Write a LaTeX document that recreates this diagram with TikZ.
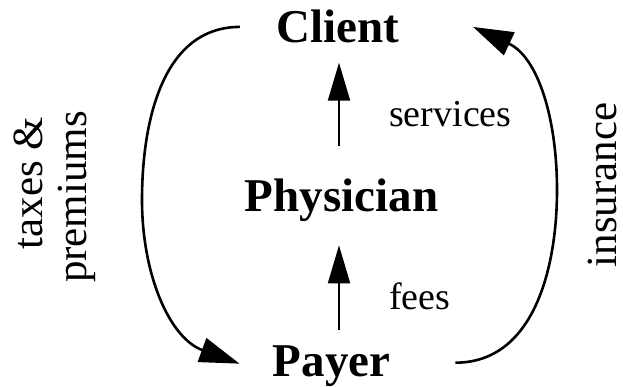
\documentclass[tikz,border=0pt]{standalone}
\usepackage{fontspec}
\setmainfont{Liberation Serif}
\usetikzlibrary{arrows.meta}

\begin{document}
\begin{tikzpicture}[x=1pt,y=1pt,
  party/.style={font=\fontsize{47}{50}\selectfont\bfseries, inner sep=0pt},
  flowlabel/.style={font=\fontsize{38}{40}\selectfont, inner sep=0pt},
  sidelabel/.style={font=\fontsize{43}{44}\selectfont, inner sep=0pt, rotate=90},
  flow/.style={line width=2pt, -{Triangle[length=38pt,width=22pt]}},
  loopflow/.style={line width=2.6pt, -{Triangle[length=40pt,width=25pt]}}]
\useasboundingbox (0,0) rectangle (623,387);

% the three parties
\node[party, anchor=base] (client) at (337.5,344) {Client};
\node[party, anchor=base] (phys)   at (341.5,175) {Physician};
\node[party, anchor=base] (payer)  at (331.5,10)  {Payer};

% labels of the vertical flows
\node[flowlabel, anchor=base west] (serv) at (389,260) {services};
\node[flowlabel, anchor=base west] (fees) at (389,77)  {fees};

% labels of the outer loop
\node[sidelabel, anchor=base] (taxes) at (42,204)  {taxes \&};
\node[sidelabel, anchor=base] (prem)  at (86,190)  {premiums};
\node[sidelabel, anchor=base] (ins)   at (616,202) {insurance};

% vertical flows
\coordinate (axis) at (339,0);
\draw[flow, shorten <=33pt, shorten >=19pt] (axis |- phys.north) -- (axis |- client.south);
\draw[flow, shorten <=16pt, shorten >=23pt] (axis |- payer.north) -- (axis |- phys.south);

% outer loop
\coordinate (lturn) at (142,187);
\coordinate (rturn) at (557,197);
\draw[loopflow] ([xshift=-36pt]client.west) to[out=180,in=90] (lturn)
  to[out=-90,in=160] ([shift={(-33pt,3pt)}]payer.west);
\draw[loopflow] ([shift={(65pt,4pt)}]payer.east) to[out=0,in=-90] (rturn)
  to[out=90,in=-25] ([xshift=74pt]client.east);
\end{tikzpicture}
\end{document}
